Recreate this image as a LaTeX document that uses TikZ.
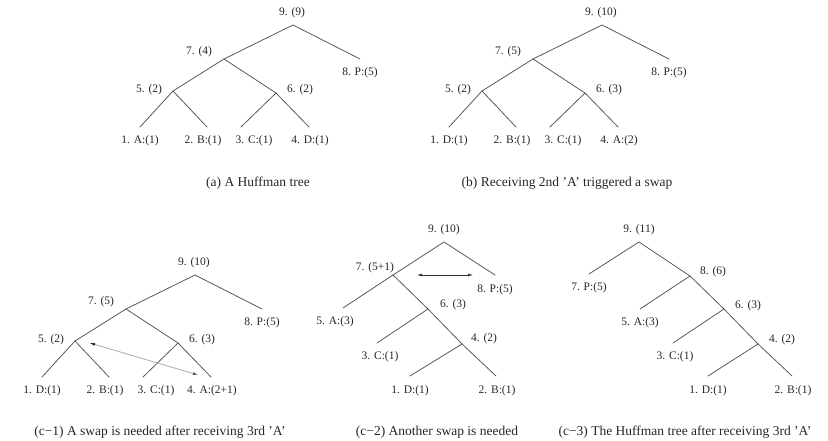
\documentclass[tikz,border=0pt]{standalone}
\usepackage{fontspec}
\setmainfont{Liberation Serif}
\usetikzlibrary{
  arrows.meta
}
\tikzset{
  % For tree branches.
  branch/.style={
    line width=0.8pt,
    draw=black!65,
    line cap=round},
%
  % For the weights of inner nodes and leaves.
  weight/.style={
    font={\fontsize{11.5pt}{12pt}\selectfont},
    text=black!85,
    inner sep=0pt},
%
  % For the captions below the trees.
  caption/.style={
    font={\fontsize{13.5pt}{14pt}\selectfont},
    text=black!85,
    inner sep=0pt},
%
  % For swap arrows with two heads.
  swap/.style={
    line width=0.6pt,
    {Latex[length=5pt,width=3pt]}-{Latex[length=5pt,width=3pt]}}
}

\begin{document}
\begin{tikzpicture}[x=1pt,y=-1pt]
  \useasboundingbox (0,0) rectangle (828,441);

  % Tree with four leaves under node 7; labels in the order 9,8,7,5,6,1,2,3,4.
  \def\balanced#1#2#3#4#5#6#7#8#9{
    \coordinate (r9) at (293,25);
    \coordinate (n8) at (360,59);
    \coordinate (n7) at (224,59);
    \coordinate (n5) at (173,91);
    \coordinate (n6) at (276,93);
    \coordinate (l1) at (140,127);
    \coordinate (l2) at (207,127);
    \coordinate (l3) at (241,127);
    \coordinate (l4) at (309,127);
    \draw[branch] (l1) -- (n5) -- (n7) -- (r9) -- (n8);
    \draw[branch] (n7) -- (n6) -- (l4);
    \draw[branch] (n5) -- (l2);
    \draw[branch] (n6) -- (l3);
    \node[weight] (t9) at (292,13)  {#1};
    \node[weight] (t8) at (360,73)  {#2};
    \node[weight] (t7) at (199,52)  {#3};
    \node[weight] (t5) at (149,90)  {#4};
    \node[weight] (t6) at (300,90)  {#5};
    \node[weight] (t1) at (140,141) {#6};
    \node[weight] (t2) at (203,141) {#7};
    \node[weight] (t3) at (254,141) {#8};
    \node[weight] (t4) at (310,141) {#9};
  }

  % (a)
  \begin{scope}[name prefix=a-]
    \balanced{9. (9)}{8. P:(5)}{7. (4)}{5. (2)}{6. (2)}
             {1. A:(1)}{2. B:(1)}{3. C:(1)}{4. D:(1)}
  \end{scope}
  \node[caption] (capa) at (258,183) {(a) A Huffman tree};

  % (b)
  \begin{scope}[shift={(309,0)},name prefix=b-]
    \balanced{9. (10)}{8. P:(5)}{7. (5)}{5. (2)}{6. (3)}
             {1. D:(1)}{2. B:(1)}{3. C:(1)}{4. A:(2)}
  \end{scope}
  \node[caption] (capb) at (567,183) {(b) Receiving 2nd 'A' triggered a swap};

  % (c-1)
  \begin{scope}[shift={(-98,250)},name prefix=c1-]
    \balanced{9. (10)}{8. P:(5)}{7. (5)}{5. (2)}{6. (3)}
             {1. D:(1)}{2. B:(1)}{3. C:(1)}{4. A:(2+1)}
  \end{scope}
  \coordinate (swap1a) at (90,343);
  \coordinate (swap1b) at (198,375);
  \draw[swap,draw=black!30,-{Latex[length=5pt,width=3pt,color=black!85]}]
    (swap1a) -- (swap1b);
  \draw[swap,draw=black!30,-{Latex[length=5pt,width=3pt,color=black!85]}]
    (swap1b) -- (swap1a);
  \node[caption] (capc1) at (160,432)
    {(c\textminus1) A swap is needed after receiving 3rd 'A'};

  % (c-2)
  \begin{scope}[name prefix=c2-]
    \coordinate (r9) at (444,242);
    \coordinate (n8) at (495,275);
    \coordinate (n7) at (393,275);
    \coordinate (l5) at (343,308);
    \coordinate (n6) at (428,309);
    \coordinate (l3) at (377,343);
    \coordinate (n4) at (462,344);
    \coordinate (l1) at (410,376);
    \coordinate (l2) at (496,376);
    \draw[branch] (l5) -- (n7) -- (r9) -- (n8);
    \draw[branch] (n7) -- (n6) -- (n4) -- (l2);
    \draw[branch] (n6) -- (l3);
    \draw[branch] (n4) -- (l1);
    \node[weight] (t9) at (444,230) {9. (10)};
    \node[weight] (t8) at (495,290) {8. P:(5)};
    \node[weight] (t7) at (375,268) {7. (5+1)};
    \node[weight] (t5) at (335,322) {5. A:(3)};
    \node[weight] (t6) at (453,305) {6. (3)};
    \node[weight] (t3) at (380,357) {3. C:(1)};
    \node[weight] (t4) at (484,339) {4. (2)};
    \node[weight] (t1) at (410,391) {1. D:(1)};
    \node[weight] (t2) at (497,391) {2. B:(1)};
  \end{scope}
  \coordinate (swap2a) at (417,275);
  \coordinate (swap2b) at (473,275);
  \draw[swap,draw=black!80] (swap2a) -- (swap2b);
  \node[caption] (capc2) at (437,432) {(c\textminus2) Another swap is needed};

  % (c-3)
  \begin{scope}[name prefix=c3-]
    \coordinate (r9) at (639,242);
    \coordinate (l7) at (589,274);
    \coordinate (n8) at (690,276);
    \coordinate (l5) at (640,309);
    \coordinate (n6) at (724,309);
    \coordinate (l3) at (673,343);
    \coordinate (n4) at (758,344);
    \coordinate (l1) at (708,376);
    \coordinate (l2) at (792,376);
    \draw[branch] (l7) -- (r9) -- (n8) -- (n6) -- (n4) -- (l2);
    \draw[branch] (n8) -- (l5);
    \draw[branch] (n6) -- (l3);
    \draw[branch] (n4) -- (l1);
    \node[weight] (t9) at (639,230) {9. (11)};
    \node[weight] (t7) at (589,288) {7. P:(5)};
    \node[weight] (t8) at (713,272) {8. (6)};
    \node[weight] (t5) at (640,323) {5. A:(3)};
    \node[weight] (t6) at (748,306) {6. (3)};
    \node[weight] (t3) at (675,357) {3. C:(1)};
    \node[weight] (t4) at (782,340) {4. (2)};
    \node[weight] (t1) at (708,391) {1. D:(1)};
    \node[weight] (t2) at (793,391) {2. B:(1)};
  \end{scope}
  \node[caption] (capc3) at (685,432)
    {(c\textminus3) The Huffman tree after receiving 3rd 'A'};
\end{tikzpicture}
\end{document}
